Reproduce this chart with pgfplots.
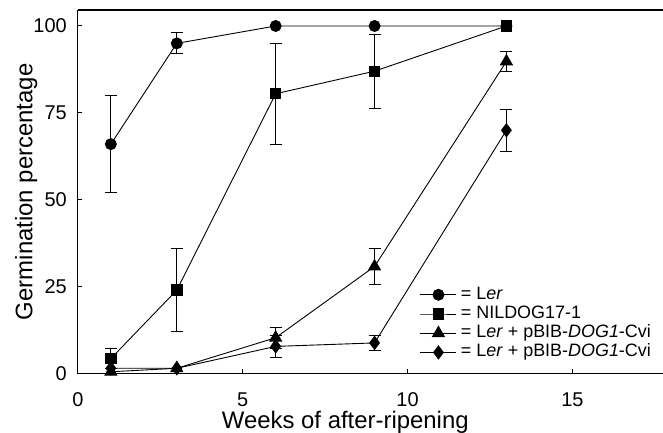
\documentclass[border=0pt]{standalone}
\usepackage{fontspec}
\setmainfont{Liberation Sans}
\usepackage{pgfplots}
\pgfplotsset{compat=1.18}
\pgfplotsset{errstyle/.style={forget plot, draw=none, mark=none,
  error bars/.cd, y dir=both, y explicit,
  error bar style={draw=black, line width=0.9bp, solid},
  error mark options={rotate=90, mark size=6bp, draw=black, line width=0.9bp}}}
\begin{document}
\begin{tikzpicture}
\path[use as bounding box] (-77.9bp,-59.5bp) rectangle (585.1bp,373.5bp);
\begin{axis}[
  at={(0,0)}, anchor=south west,
  scale only axis, width=585.1bp, height=363.5bp,
  xmin=0, xmax=17.75, ymin=0, ymax=104.6,
  clip=false,
  axis x line*=bottom, axis y line*=left,
  axis line style={line width=1.1bp, -},
  xtick={0,5,10,15}, ytick={0,25,50,75,100},
  tick align=inside, major tick length=4.5bp,
  tick style={line width=1bp, black},
  minor tick num=0,
  /pgf/number format/assume math mode=true,
  ticklabel style={font=\fontsize{20}{20}\selectfont},
  xticklabel style={anchor=base, inner sep=0pt, yshift=-32.5bp},
  yticklabel style={anchor=east, inner sep=0pt, xshift=-11bp},
  xlabel={Weeks of after-ripening},
  ylabel={Germination percentage},
  label style={font=\fontsize{24}{24}\selectfont},
  xlabel style={at={(axis description cs:0.457,0)}, anchor=base, inner sep=0pt, yshift=-54.8bp},
  ylabel style={at={(axis description cs:-0.0776,0.5)}, anchor=base, inner sep=0pt},
  legend style={at={(axis description cs:0.5847,0.2399)}, anchor=north west,
    draw=none, fill=none, inner sep=0pt, outer sep=0pt,
    row sep=2.2bp, column sep=4bp,
    font=\fontsize{18}{18}\selectfont,
    nodes={inner sep=0pt, text height=13bp, text depth=4bp}},
  legend cell align=left,
  legend image code/.code={\draw[mark repeat=2,mark phase=2] plot coordinates {(0bp,0bp) (18bp,0bp) (36bp,0bp)};},
]
% error bars
\addplot[errstyle] coordinates {(1,66) +- (0,14) (3,95) +- (0,3)};
\addplot[errstyle] coordinates {(1,4.3) +- (0,2.9) (3,24) +- (0,12) (6,80.5) +- (0,14.5) (9,87) +- (0,10.7)};
\addplot[errstyle] coordinates {(6,10.3) +- (0,3) (9,30.8) +- (0,5.2) (13,89.8) +- (0,2.9)};
\addplot[errstyle] coordinates {(6,7.8) +- (0,3.2) (9,8.8) +- (0,2.2) (13,70) +- (0,6)};
% series
\addplot[black, line width=0.9bp, mark=*, mark size=5.5bp, mark options={solid, fill=black}]
  coordinates {(1,66) (3,95) (6,100) (9,100) (13,100)};
\addlegendentry{= L\textit{er}}
\addplot[black, line width=0.9bp, mark=square*, mark size=5.2bp, mark options={solid, fill=black}]
  coordinates {(1,4.3) (3,24) (6,80.5) (9,87) (13,100)};
\addlegendentry{= NILDOG17-1}
\addplot[black, line width=0.9bp, mark=triangle*, mark size=6.8bp, mark options={solid, fill=black}]
  coordinates {(1,0.5) (3,1.5) (6,10.3) (9,30.8) (13,89.8)};
\addlegendentry{= L\textit{er} + pBIB-\textit{DOG1}-Cvi}
\addplot[black, line width=0.9bp, mark=diamond*, mark size=6.5bp, mark options={solid, fill=black}]
  coordinates {(1,1.5) (3,1.5) (6,7.8) (9,8.8) (13,70)};
\addlegendentry{= L\textit{er} + pBIB-\textit{DOG1}-Cvi}
\draw[line width=1.1bp] (rel axis cs:0,1) -- (rel axis cs:1,1);
\end{axis}
\end{tikzpicture}
\end{document}
